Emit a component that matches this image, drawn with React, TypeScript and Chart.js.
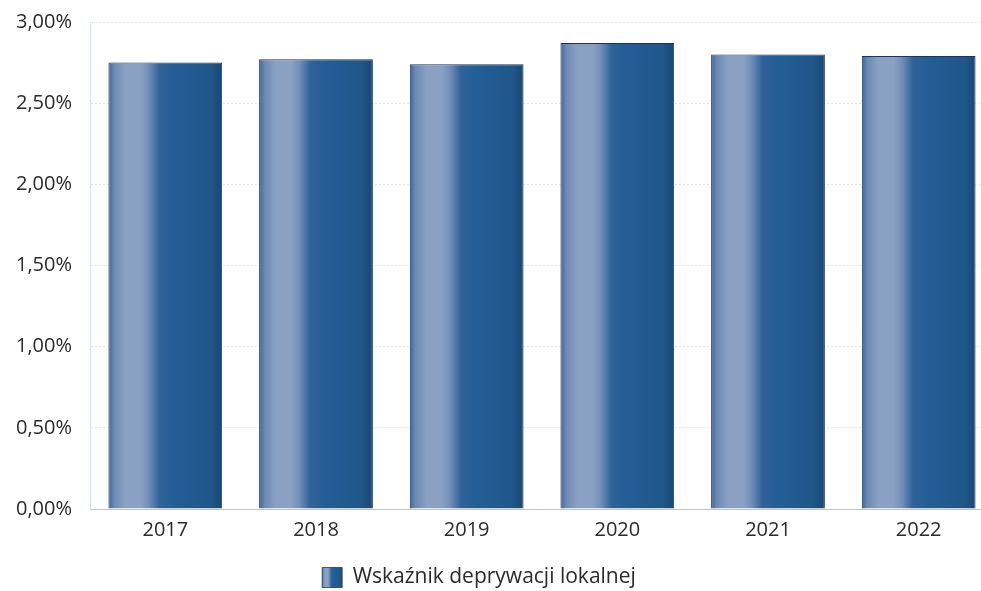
import React, { useEffect, useRef } from "react";
import { Chart, registerables } from "chart.js";

Chart.register(...registerables);

const categories: string[] = ["2017", "2018", "2019", "2020", "2021", "2022"];
const seriesLabel = "Wskaźnik deprywacji lokalnej";
const seriesValues: number[] = [2.75, 2.77, 2.74, 2.87, 2.8, 2.79];
const yTicks: number[] = [0, 0.5, 1, 1.5, 2, 2.5, 3];

const BAR_PCT = 0.755;
const FONT = "'Open Sans', 'Noto Sans', sans-serif";

const stops: [number, string][] = [
  [0, "#3f6594"],
  [0.05, "#6d8ab4"],
  [0.15, "#8aa1c4"],
  [0.28, "#8aa1c4"],
  [0.35, "#7390b9"],
  [0.45, "#2f6299"],
  [0.6, "#225d95"],
  [0.9, "#1f5789"],
  [1, "#1a4675"],
];

function makeGradient(ctx: CanvasRenderingContext2D, x0: number, x1: number) {
  const g = ctx.createLinearGradient(x0, 0, x1, 0);
  stops.forEach(([o, c]) => g.addColorStop(o, c));
  return g;
}

export default function App() {
  const ref = useRef<HTMLCanvasElement | null>(null);

  useEffect(() => {
    if (!ref.current) return;
    const legendSwatch = {
      id: "legendSwatch",
      afterUpdate(chart: any) {
        const lg = chart.legend;
        if (!lg || !lg.legendItems || !lg.legendHitBoxes || !lg.legendHitBoxes[0]) return;
        const hb = lg.legendHitBoxes[0];
        const bw = lg.options.labels.boxWidth;
        lg.legendItems[0].fillStyle = makeGradient(chart.ctx, hb.left, hb.left + bw);
      },
    };
    const chart = new Chart(ref.current, {
      type: "bar",
      data: {
        labels: categories,
        datasets: [
          {
            label: seriesLabel,
            data: seriesValues,
            backgroundColor: (c: any) => {
              const chartRef = c.chart;
              const xs = chartRef.scales && chartRef.scales.x;
              if (c.type !== "data" || !xs || !xs.width) return "#2a5e95";
              const center = xs.getPixelForValue(c.dataIndex);
              const half = (xs.width / categories.length) * BAR_PCT / 2;
              return makeGradient(chartRef.ctx, center - half, center + half);
            },
            borderColor: "#1b345c",
            borderWidth: { top: 1, left: 1, right: 1, bottom: 0 },
            borderSkipped: false,
            categoryPercentage: 1,
            barPercentage: BAR_PCT,
          },
        ],
      },
      plugins: [legendSwatch],
      options: {
        animation: false,
        responsive: false,
        devicePixelRatio: 1,
        layout: { padding: { top: 22, bottom: 0, left: 0, right: 0 } },
        scales: {
          x: {
            grid: { display: false, drawTicks: false },
            border: { display: true, color: "#c4c4c4", width: 1 },
            ticks: {
              color: "#2b2b2b",
              font: { family: FONT, size: 20 },
              padding: 9,
            },
          },
          y: {
            min: 0,
            max: 3,
            afterFit: (s: any) => {
              s.width = 126;
            },
            afterBuildTicks: (s: any) => {
              s.ticks = yTicks.map((v) => ({ value: v }));
            },
            grid: {
              color: (c: any) => (c.tick && c.tick.value === 0 ? "rgba(0,0,0,0)" : "#e3e8ef"),
              lineWidth: 1,
              drawTicks: true,
              tickLength: 18,
              tickColor: "rgba(0,0,0,0)",
            },
            border: { display: true, color: "#d6dfea", dash: [2, 2] },
            ticks: {
              color: "#2b2b2b",
              font: { family: FONT, size: 20 },
              padding: 0,
              callback: (v: any) => Number(v).toFixed(2).replace(".", ",") + "%",
            },
          },
        },
        plugins: {
          legend: {
            position: "bottom",
            labels: {
              color: "#2b2b2b",
              font: { family: FONT, size: 21 },
              boxWidth: 20,
              boxHeight: 20,
              padding: 16,
            },
          },
          tooltip: { enabled: false },
        },
      } as any,
    });
    return () => chart.destroy();
  }, []);

  return (
    <div
      style={{
        position: "fixed",
        left: 0,
        top: 0,
        width: 981,
        height: 591,
        overflow: "hidden",
        background: "#ffffff",
      }}
    >
      <canvas
        ref={ref}
        width={1030}
        height={598}
        style={{ position: "absolute", left: -36, top: 0, width: 1030, height: 598 }}
      />
    </div>
  );
}
